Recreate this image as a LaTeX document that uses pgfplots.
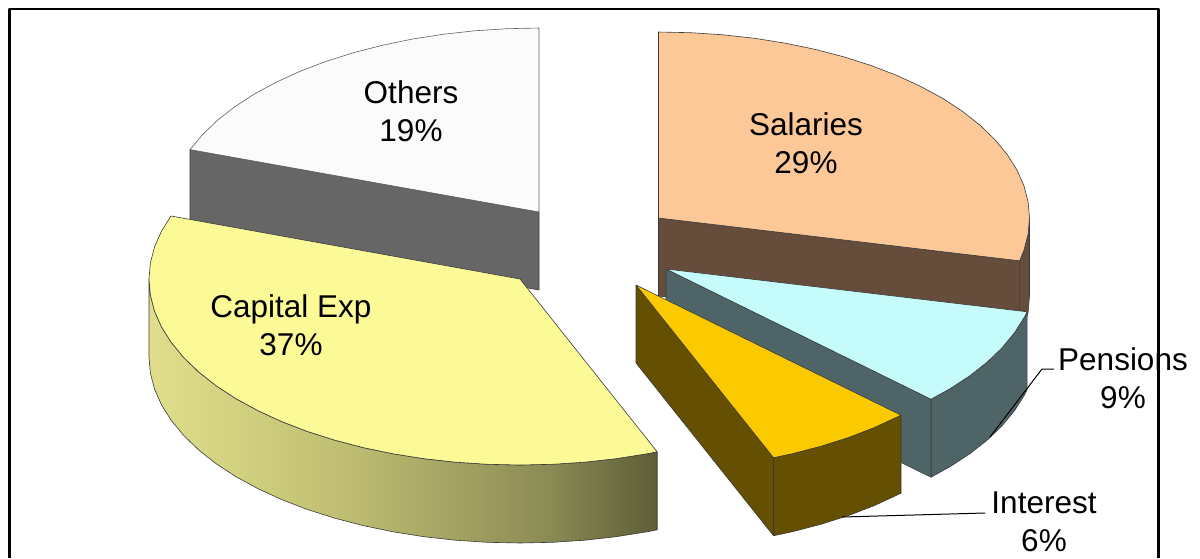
\documentclass[border=0pt]{standalone}
\usepackage{fontspec}
\setmainfont{Liberation Sans}
\usepackage{pgfplots}
\pgfplotsset{compat=1.18}

\definecolor{edge}{HTML}{3A3A3A}
\definecolor{othersTop}{HTML}{FBFBFB}
\definecolor{othersSide}{HTML}{666666}
\definecolor{capTop}{HTML}{FBFA97}
\definecolor{salTop}{HTML}{FCC897}
\definecolor{salSide}{HTML}{664D3B}
\definecolor{penTop}{HTML}{C6FBFB}
\definecolor{penSide}{HTML}{4F6466}
\definecolor{intTop}{HTML}{FBC900}
\definecolor{intSide}{HTML}{654F00}

% gradient on the front wall of Capital Exp (path box sits on 25bp..75bp)
\definecolor{capA}{HTML}{E0DE8C}
\definecolor{capB}{HTML}{D0CF7E}
\definecolor{capC}{HTML}{BDBC70}
\definecolor{capD}{HTML}{A5A464}
\definecolor{capE}{HTML}{8A8A54}
\definecolor{capF}{HTML}{6C6C40}
\definecolor{capG}{HTML}{5E5E38}
\pgfdeclarehorizontalshading{capside}{100bp}{color(0bp)=(capA); color(25bp)=(capA); color(35bp)=(capB); color(45bp)=(capC);
    color(54.5bp)=(capD); color(64.5bp)=(capE); color(71.5bp)=(capF); color(75bp)=(capG); color(100bp)=(capG)}

\tikzset{lab/.style={font=\fontsize{31.5}{38.5}\selectfont, align=center, inner sep=0pt, text=black}}

\begin{document}
\begin{tikzpicture}
\path[use as bounding box] (0,0) rectangle (1200pt,558pt);
\begin{axis}[
    at={(0,0)}, anchor=south west,
    scale only axis,
    width=1200pt, height=558pt,
    xmin=0, xmax=1200, ymin=0, ymax=558,
    y dir=reverse,
    hide axis,
    clip=false,
    every axis plot/.append style={line join=round},
]
% outer frame (no bottom side in the picture)
\addplot[black, line width=2.2pt] coordinates {(9.5,558) (9.5,9) (1158.5,9) (1158.5,558)};

% Others
\addplot[fill=othersSide, draw=edge, line width=0.6pt] coordinates {(190,149.6) (539,212) (539,290) (190,227.6)} --cycle;
\addplot[fill=othersTop, draw=edge!80, line width=0.6pt] coordinates {
    (539,212) (539,28) (506.7,28.7) (474.6,30.8) (443,34.3) (412.1,39.1) (382.2,45.3) (353.5,52.7)
    (326.2,61.3) (300.5,71.1) (276.7,82) (254.8,93.7) (235.1,106.5) (217.7,120) (202.8,134.3) (190,149.6)} --cycle;

% Capital Exp
\addplot[shading=capside, draw=edge, line width=0.6pt] coordinates {
    (657.2,451.8) (646.9,453.8) (616,458.7) (584.4,462.2) (552.3,464.3) (520,465) (487.7,464.3)
    (455.6,462.2) (424,458.7) (393.1,453.8) (363.2,447.6) (334.5,440.1) (307.2,431.4) (281.5,421.5)
    (257.7,410.5) (235.8,398.6) (216.1,385.7) (198.7,372) (183.8,357.6) (171.4,342.6) (161.6,327.1)
    (154.6,311.3) (150.4,295.2) (149,279)
    (149,357) (150.4,373.2) (154.6,389.3) (161.6,405.1) (171.4,420.6) (183.8,435.6) (198.7,450)
    (216.1,463.7) (235.8,476.6) (257.7,488.5) (281.5,499.5) (307.2,509.4) (334.5,518.1) (363.2,525.6)
    (393.1,531.8) (424,536.7) (455.6,540.2) (487.7,542.3) (520,543) (552.3,542.3) (584.4,540.2)
    (616,536.7) (646.9,531.8) (657.2,529.8)} --cycle;
\addplot[fill=capTop, draw=edge, line width=0.6pt] coordinates {
    (520,279) (657.2,451.8) (646.9,453.8) (616,458.7) (584.4,462.2) (552.3,464.3) (520,465) (487.7,464.3)
    (455.6,462.2) (424,458.7) (393.1,453.8) (363.2,447.6) (334.5,440.1) (307.2,431.4) (281.5,421.5)
    (257.7,410.5) (235.8,398.6) (216.1,385.7) (198.7,372) (183.8,357.6) (171.4,342.6) (161.6,327.1)
    (154.6,311.3) (150.4,295.2) (149,279) (150.4,262.8) (154.6,246.7) (161.6,230.9) (171,216)} --cycle;

% Salaries
\addplot[fill=salSide, draw=edge, line width=0.6pt] coordinates {
    (1029.5,218) (1028.1,234.2) (1023.9,250.3) (1019.6,260.8) (1019.6,338.8) (1023.9,328.3) (1028.1,312.2) (1029.5,296)} --cycle;
\addplot[fill=salSide, draw=edge, line width=0.6pt] coordinates {(658.5,218) (1019.6,260.8) (1019.6,338.8) (658.5,296)} --cycle;
\addplot[fill=salTop, draw=edge, line width=0.6pt] coordinates {
    (658.5,218) (658.5,32) (690.8,32.7) (722.9,34.8) (754.5,38.3) (785.4,43.2) (815.3,49.4) (844,56.9)
    (871.3,65.6) (897,75.5) (920.8,86.5) (942.7,98.4) (962.4,111.3) (979.8,125) (994.7,139.4)
    (1007.1,154.4) (1016.9,169.9) (1023.9,185.7) (1028.1,201.8) (1029.5,218) (1028.1,234.2)
    (1023.9,250.3) (1019.6,260.8)} --cycle;

% Pensions
\addplot[fill=penSide, draw=edge, line width=0.6pt] coordinates {
    (1027.1,311.8) (1024.4,317.1) (1014.6,332.6) (1002.2,347.6) (987.3,362) (969.9,375.7) (950.2,388.6) (931,399.2)
    (931,477.2) (950.2,466.6) (969.9,453.7) (987.3,440) (1002.2,425.6) (1014.6,410.6) (1024.4,395.1) (1027.1,389.8)} --cycle;
\addplot[fill=penSide, draw=edge, line width=0.6pt] coordinates {(666,269) (931,399.2) (931,477.2) (666,347)} --cycle;
\addplot[fill=penTop, draw=edge, line width=0.6pt] coordinates {
    (666,269) (1027.1,311.8) (1024.4,317.1) (1014.6,332.6) (1002.2,347.6) (987.3,362) (969.9,375.7) (950.2,388.6) (931,399.2)} --cycle;

% Interest
\addplot[fill=intSide, draw=edge, line width=0.6pt] coordinates {(636,285) (773.5,457.7) (773.5,535.7) (636,363)} --cycle;
\addplot[fill=intSide, draw=edge, line width=0.6pt] coordinates {
    (773.5,457.7) (792.8,453.6) (821.5,446.1) (848.8,437.4) (874.5,427.5) (901,415.2)
    (901,493.2) (874.5,505.5) (848.8,515.4) (821.5,524.1) (792.8,531.6) (773.5,535.7)} --cycle;
\addplot[fill=intTop, draw=edge, line width=0.6pt] coordinates {
    (636,285) (773.5,457.7) (792.8,453.6) (821.5,446.1) (848.8,437.4) (874.5,427.5) (901,415.2)} --cycle;

% leader lines
\addplot[black, line width=1pt] coordinates {(1054,369) (1042,369) (990,437)};
\addplot[black, line width=1pt] coordinates {(985,513) (842,517)};

% labels
\node[lab] at (axis cs:411,111) {Others\\19\%};
\node[lab] at (axis cs:806,143) {Salaries\\29\%};
\node[lab] at (axis cs:291,325) {Capital Exp\\37\%};
\node[lab] at (axis cs:1123,378) {Pensions\\9\%};
\node[lab] at (axis cs:1044,522) {Interest\\6\%};
\end{axis}
\end{tikzpicture}
\end{document}
